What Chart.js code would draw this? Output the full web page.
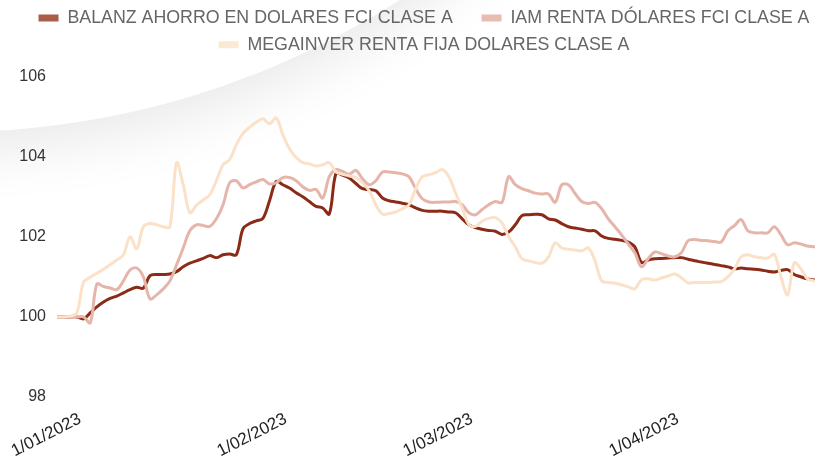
<!DOCTYPE html>
<html>
<head>
<meta charset="utf-8">
<script src="https://cdn.jsdelivr.net/npm/chart.js@4.4.0/dist/chart.umd.min.js"></script>
<style>
  html, body { margin: 0; padding: 0; background: #fff; overflow: hidden; }
  #wrap { position: relative; width: 815px; height: 458px; overflow: hidden; background: #fff; }
  /* soft page-curl shape in the top left corner */
  #sheet { position: absolute; left: -882px; top: -1532px; width: 1664px; height: 1664px; border-radius: 50%;
           background: #fff; box-shadow: 0 18px 60px rgba(0, 0, 0, 0.09); }
  #box { position: absolute; left: 0; top: 0; width: 854px; height: 458px; }
</style>
</head>
<body>
<div id="wrap">
  <div id="sheet"></div>
  <div id="box"><canvas id="myChart"></canvas></div>
</div>
<script>
// daily dates, 29/12/2022 .. 26/04/2023
const dates = [
    '29/12/2022', '30/12/2022', '31/12/2022',
    '1/01/2023', '2/01/2023', '3/01/2023', '4/01/2023', '5/01/2023', '6/01/2023', '7/01/2023', '8/01/2023',
    '9/01/2023', '10/01/2023', '11/01/2023', '12/01/2023', '13/01/2023', '14/01/2023', '15/01/2023', '16/01/2023',
    '17/01/2023', '18/01/2023', '19/01/2023', '20/01/2023', '21/01/2023', '22/01/2023', '23/01/2023', '24/01/2023',
    '25/01/2023', '26/01/2023', '27/01/2023', '28/01/2023', '29/01/2023', '30/01/2023', '31/01/2023',
    '1/02/2023', '2/02/2023', '3/02/2023', '4/02/2023', '5/02/2023', '6/02/2023', '7/02/2023', '8/02/2023',
    '9/02/2023', '10/02/2023', '11/02/2023', '12/02/2023', '13/02/2023', '14/02/2023', '15/02/2023', '16/02/2023',
    '17/02/2023', '18/02/2023', '19/02/2023', '20/02/2023', '21/02/2023', '22/02/2023', '23/02/2023', '24/02/2023',
    '25/02/2023', '26/02/2023', '27/02/2023', '28/02/2023',
    '1/03/2023', '2/03/2023', '3/03/2023', '4/03/2023', '5/03/2023', '6/03/2023', '7/03/2023', '8/03/2023',
    '9/03/2023', '10/03/2023', '11/03/2023', '12/03/2023', '13/03/2023', '14/03/2023', '15/03/2023', '16/03/2023',
    '17/03/2023', '18/03/2023', '19/03/2023', '20/03/2023', '21/03/2023', '22/03/2023', '23/03/2023', '24/03/2023',
    '25/03/2023', '26/03/2023', '27/03/2023', '28/03/2023', '29/03/2023', '30/03/2023', '31/03/2023',
    '1/04/2023', '2/04/2023', '3/04/2023', '4/04/2023', '5/04/2023', '6/04/2023', '7/04/2023', '8/04/2023',
    '9/04/2023', '10/04/2023', '11/04/2023', '12/04/2023', '13/04/2023', '14/04/2023', '15/04/2023', '16/04/2023',
    '17/04/2023', '18/04/2023', '19/04/2023', '20/04/2023', '21/04/2023', '22/04/2023', '23/04/2023', '24/04/2023',
    '25/04/2023', '26/04/2023'
];

const seriesNames = [
    'BALANZ AHORRO EN DOLARES FCI CLASE A',
    'IAM RENTA DÓLARES FCI CLASE A',
    'MEGAINVER RENTA FIJA DOLARES CLASE A'
];

const balanz = [
    100.0, 100.0, 100.0, 100.0, 99.95, 100.1, 100.25, 100.37, 100.46, 100.52,
    100.6, 100.68, 100.74, 100.72, 101.03, 101.06, 101.06, 101.07, 101.13, 101.25,
    101.34, 101.4, 101.46, 101.53, 101.48, 101.55, 101.57, 101.55, 102.2, 102.33,
    102.4, 102.46, 102.9, 103.38, 103.3, 103.22, 103.1, 103.0, 102.88, 102.76,
    102.72, 102.57, 103.58, 103.54, 103.47, 103.33, 103.2, 103.18, 103.15, 102.97,
    102.9, 102.87, 102.84, 102.8, 102.72, 102.66, 102.64, 102.64, 102.64, 102.62,
    102.6, 102.45, 102.3, 102.23, 102.19, 102.16, 102.14, 102.06, 102.12, 102.3,
    102.53, 102.55, 102.56, 102.55, 102.45, 102.42, 102.33, 102.25, 102.22, 102.19,
    102.15, 102.15, 102.02, 101.96, 101.94, 101.91, 101.87, 101.75, 101.36, 101.42,
    101.45, 101.46, 101.47, 101.48, 101.48, 101.44, 101.4, 101.37, 101.34, 101.31,
    101.28, 101.25, 101.2, 101.22, 101.2, 101.19, 101.17, 101.14, 101.12, 101.16,
    101.18, 101.06, 101.0, 100.95, 100.92, 100.9, 100.88, 100.86, 100.85
];

const iam = [
    100.0, 100.0, 100.0, 100.0, 100.0, 99.85, 100.82, 100.76, 100.72, 100.68,
    100.9, 101.17, 101.22, 101.0, 100.45, 100.55, 100.7, 100.9, 101.3, 101.72,
    102.15, 102.3, 102.28, 102.26, 102.45, 102.8, 103.35, 103.4, 103.22, 103.3,
    103.37, 103.43, 103.32, 103.35, 103.48, 103.48, 103.4, 103.25, 103.16, 103.18,
    102.97, 103.5, 103.68, 103.63, 103.56, 103.66, 103.45, 103.3, 103.4, 103.62,
    103.62, 103.6, 103.57, 103.5, 103.2, 102.95, 102.87, 102.86, 102.87, 102.87,
    102.88, 102.8, 102.6, 102.55, 102.68, 102.8, 102.88, 102.86, 103.5, 103.3,
    103.2, 103.15, 103.09, 103.07, 103.07, 102.86, 103.3, 103.3, 103.08, 102.88,
    102.83, 102.86, 102.7, 102.45, 102.25, 102.05, 101.82, 101.6, 101.25, 101.45,
    101.62, 101.58, 101.52, 101.5, 101.6, 101.9, 101.93, 101.91, 101.9, 101.88,
    101.87, 102.15, 102.28, 102.43, 102.15, 102.1, 102.1, 102.1, 102.25, 102.05,
    101.8, 101.85, 101.82, 101.77, 101.75, 101.72, 101.7, 101.72, 101.7
];

const megainver = [
    100.0, 100.0, 100.02, 100.1, 100.87, 100.99, 101.09, 101.19, 101.3, 101.42,
    101.55, 102.0, 101.7, 102.25, 102.33, 102.3, 102.25, 102.25, 103.85, 103.3,
    102.6, 102.79, 102.92, 103.05, 103.4, 103.8, 103.93, 104.3, 104.58, 104.74,
    104.86, 104.95, 104.82, 104.97, 104.55, 104.2, 103.98, 103.85, 103.82, 103.77,
    103.8, 103.85, 103.62, 103.56, 103.52, 103.48, 103.35, 103.15, 102.8, 102.57,
    102.58, 102.62, 102.7, 102.8, 103.2, 103.5, 103.55, 103.6, 103.68, 103.5,
    103.1, 102.72, 102.31, 102.26, 102.39, 102.46, 102.48, 102.35, 102.0, 101.75,
    101.45, 101.4, 101.36, 101.34, 101.5, 101.85, 101.72, 101.69, 101.67, 101.65,
    101.72, 101.4, 100.9, 100.86, 100.84, 100.8, 100.75, 100.7, 100.93, 100.95,
    100.92, 100.97, 101.02, 101.07, 100.98, 100.85, 100.86, 100.86, 100.86, 100.87,
    100.88, 101.0, 101.2, 101.5, 101.55, 101.5, 101.48, 101.47, 101.56, 101.0,
    100.55, 101.35, 101.2, 100.95, 100.9, 100.88, 100.85, 100.85, 100.82
];

const yMin = 98;
const yMax = 106;
const yStep = 2;

const lineColors = ['#8b2b17', '#e6b5aa', '#fbe1c8'];
const boxColors = ['#ab5d4c', '#e9bcb2', '#fce8d4'];
const fontFamily = "'Liberation Sans', Arial, sans-serif";

// extra room between legend and plot area
const legendMargin = {
    id: 'legendMargin',
    beforeInit(chart) {
        const fit = chart.legend.fit;
        chart.legend.fit = function () {
            fit.bind(chart.legend)();
            this.height += 13;
        };
    }
};

const ctx = document.getElementById('myChart');
const seriesData = [balanz, iam, megainver];

new Chart(ctx, {
    type: 'line',
    data: {
        labels: dates,
        datasets: seriesData.map((values, i) => ({
            label: seriesNames[i],
            data: values,
            borderColor: lineColors[i],
            backgroundColor: boxColors[i],
            borderWidth: 3,
            pointRadius: 0,
            tension: 0.35,
            order: 2 - i // brown drawn first, peach on top
        }))
    },
    options: {
        responsive: true,
        maintainAspectRatio: false,
        animation: false,
        layout: {
            padding: { right: 6, bottom: 2 }
        },
        plugins: {
            legend: {
                position: 'top',
                labels: {
                    font: { family: fontFamily, size: 17.8 },
                    color: '#666',
                    boxWidth: 20,
                    boxHeight: 7,
                    padding: 9,
                    sort: (a, b) => a.datasetIndex - b.datasetIndex,
                    generateLabels: chart => {
                        const items = Chart.defaults.plugins.legend.labels.generateLabels(chart);
                        items.forEach(item => {
                            item.lineWidth = 0;
                            item.fillStyle = boxColors[item.datasetIndex];
                            if (item.datasetIndex === 0) item.text += '    ';
                        });
                        return items;
                    }
                }
            },
            tooltip: { enabled: false }
        },
        scales: {
            x: {
                grid: { display: false },
                border: { display: false },
                afterFit: axis => { axis.height = 59; },
                ticks: {
                    autoSkip: false,
                    minRotation: 27,
                    maxRotation: 27,
                    padding: 4,
                    labelOffset: 3,
                    color: '#222',
                    font: { family: fontFamily, size: 17 },
                    callback: function (value) {
                        const label = this.getLabelForValue(value);
                        return label.startsWith('1/') ? label : '';
                    }
                }
            },
            y: {
                min: yMin,
                max: yMax,
                grid: { display: false },
                border: { display: false },
                afterFit: axis => { axis.width = 57; },
                ticks: {
                    stepSize: yStep,
                    padding: 3,
                    color: '#333',
                    font: { family: fontFamily, size: 16 }
                }
            }
        }
    },
    plugins: [legendMargin]
});
</script>
</body>
</html>
